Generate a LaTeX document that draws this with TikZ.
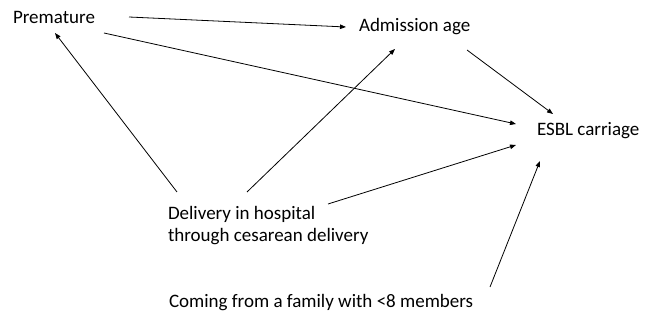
\documentclass[tikz,border=0pt]{standalone}
\usepackage{fontspec}
\setmainfont{Carlito}
\usetikzlibrary{arrows.meta}
\begin{document}
\begin{tikzpicture}[x=1pt,y=-1pt,
  lbl/.style={anchor=base west,inner sep=0pt,outer sep=0pt,align=left,font=\fontsize{19}{22}\selectfont},
  arr/.style={line width=0.8pt,-{Triangle[length=6pt,width=4.5pt]}}]
\useasboundingbox (0,0) rectangle (649,323);
\node[lbl] (prem) at (13,24) {Premature};
\node[lbl] (adm) at (359,32) {Admission age};
\node[lbl] (esbl) at (537,136) {ESBL carriage};
\node[lbl] (del) at (168,242) {Delivery in hospital\\through cesarean delivery};
\node[lbl] (fam) at (169,308) {Coming from a family with <8 members};
% connector end points
\coordinate (p1) at (129,17);  \coordinate (a1) at (346,27);
\coordinate (p2) at (104,33);  \coordinate (e1) at (516,124);
\coordinate (d1) at (177,192); \coordinate (p3) at (55,33);
\coordinate (d2) at (247,192); \coordinate (a2) at (395,49);
\coordinate (d3) at (328,204); \coordinate (e2) at (516,145);
\coordinate (a3) at (467,50);  \coordinate (e3) at (553,114);
\coordinate (f1) at (490,287); \coordinate (e4) at (540,161);
\draw[arr] (p1) -- (a1);
\draw[arr] (p2) -- (e1);
\draw[arr] (d1) -- (p3);
\draw[arr] (d2) -- (a2);
\draw[arr] (d3) -- (e2);
\draw[arr] (a3) -- (e3);
\draw[arr] (f1) -- (e4);
\end{tikzpicture}
\end{document}
